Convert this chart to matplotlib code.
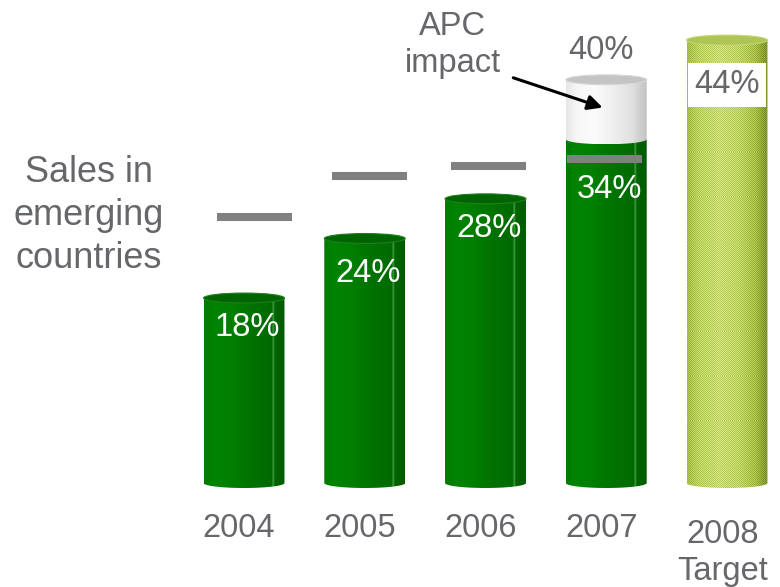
import numpy as np
import matplotlib
matplotlib.use('Agg')
import matplotlib.pyplot as plt
from matplotlib.patches import Ellipse, Polygon
from matplotlib.colors import to_rgb

# ---------------- data ----------------
years = ['2004', '2005', '2006', '2007', '2008\nTarget']
sales = [18, 24, 28, 34, 44]            # % sales in emerging countries
sales_labels = ['18%', '24%', '28%', '34%', '44%']
apc_total = 40                          # 2007 including APC impact
apc_label = '40%'
prior_marks = [26.2, 30.3, 31.3, 32.0]  # grey marker levels 2004-2007

# ---------------- style ----------------
GRAY_TXT = '#66676b'
FS = 23.5
BASE = -0.65          # bottom of cylinders
RY = 0.5              # half-height of cylinder caps (data units)
BW = 0.67             # bar width
GREEN = [(0.0, '#007a00'), (0.12, '#008400'), (0.35, '#007e00'), (0.6, '#007200'),
         (0.84, '#006a00'), (0.86, '#3c9a3c'), (0.88, '#006400'), (1.0, '#005a00')]
WHITE = [(0.0, '#e6e6e6'), (0.12, '#f6f6f6'), (0.35, '#fbfbfb'), (0.6, '#eeeeee'),
         (0.84, '#dedede'), (0.9, '#d2d2d2'), (1.0, '#c4c4c4')]
LIME = [(0.0, '#a6be44'), (0.15, '#bcd45c'), (0.4, '#c8dc70'), (0.65, '#bed462'),
        (0.85, '#a6be44'), (1.0, '#7c922c')]

fig = plt.figure(figsize=(7.8, 5.87), dpi=100)
ax = fig.add_axes([0, 0, 1, 1])
ax.set_xlim(-244 / 120.75, 536 / 120.75)
ax.set_ylim(-11.13, 48.04)
ax.axis('off')


def cylinder(xc, y0, y1, stops, cap, cap_edge, dither=0.0, z=2, draw_cap=True):
    W, H = 81, max(int((y1 - y0) * 10) + 12, 4)
    u = np.linspace(0, 1, W)
    pos = [s[0] for s in stops]
    cols = np.array([to_rgb(s[1]) for s in stops])
    row = np.stack([np.interp(u, pos, cols[:, k]) for k in range(3)], axis=-1)
    img = np.repeat(row[None, :, :], H, axis=0)
    if dither:
        ii, jj = np.meshgrid(np.arange(H), np.arange(W), indexing='ij')
        img = np.clip(img + dither * (((ii + jj) % 2) * 2 - 1)[..., None], 0, 1)
    xl, xr = xc - BW / 2, xc + BW / 2
    im = ax.imshow(img, extent=[xl, xr, y0 - RY, y1], origin='lower',
                   aspect='auto', zorder=z, interpolation='nearest')
    t = np.linspace(np.pi, 2 * np.pi, 60)
    pts = [(xl, y1), (xl, y0)] + list(zip(xc + BW / 2 * np.cos(t), y0 + RY * np.sin(t))) + [(xr, y1)]
    clip = Polygon(pts, closed=True, transform=ax.transData)
    im.set_clip_path(clip)
    if draw_cap:
        ax.add_patch(Ellipse((xc, y1), BW, 2 * RY, facecolor=cap, edgecolor=cap_edge,
                             lw=0.8, zorder=z + 0.1))


xs = np.arange(len(years))
for i in range(4):
    cylinder(xs[i], BASE, sales[i], GREEN, '#006400', '#1f7f1f', z=2,
             draw_cap=(i != 3))
# APC impact on top of 2007
cylinder(xs[3], sales[3], apc_total, WHITE, '#c4c4c4', '#d8d8d8', z=3)
# 2008 target
cylinder(xs[4], BASE, sales[4], LIME, '#aec454', '#c2d672', dither=0.06, z=2)

# grey marker lines
mark_off = [0.09, 0.04, 0.025, -0.017]
for i, m in enumerate(prior_marks):
    ax.hlines(m, xs[i] + mark_off[i] - 0.31, xs[i] + mark_off[i] + 0.31,
              colors='#808080', lw=5.8, capstyle='butt', zorder=5)

# value labels inside bars
lab_off = [3.0, 3.5, 3.0, 5.1]
for i in range(4):
    ax.text(xs[i] + 0.03, sales[i] - lab_off[i], sales_labels[i], color='white',
            fontsize=FS, ha='center', va='center', family='Liberation Sans', zorder=6)
ax.text(xs[3] - 0.04, apc_total + 2.9, apc_label, color=GRAY_TXT, fontsize=FS,
        ha='center', va='center', family='Liberation Sans', zorder=6)
ax.text(xs[4], sales[4] - 4.5, sales_labels[4], color=GRAY_TXT, fontsize=FS,
        ha='center', va='center', family='Liberation Sans', zorder=6,
        bbox=dict(boxstyle='square,pad=0.2', facecolor='white', edgecolor='none'))

# year labels
for i, y in enumerate(years):
    yy = -5.2 if '\n' not in y else -7.7
    ax.text(xs[i] - 0.04, yy, y, color=GRAY_TXT, fontsize=FS, ha='center',
            va='center', family='Liberation Sans', linespacing=1.25)

# side title
ax.text(-1.284, 26.3, 'Sales in\nemerging\ncountries', color=GRAY_TXT, fontsize=26,
        ha='center', va='center', family='Liberation Sans', linespacing=1.3)

# APC annotation
ax.text(1.73, 43.5, 'APC\nimpact', color=GRAY_TXT, fontsize=FS, ha='center',
        va='center', family='Liberation Sans', linespacing=1.27)
ax.annotate('', xy=(xs[3] - 0.03, (sales[3] + apc_total) / 2 + 0.2),
            xytext=(2.23, 40.2),
            arrowprops=dict(arrowstyle='-|>', color='black', lw=2.2,
                            mutation_scale=22, shrinkA=0, shrinkB=0), zorder=7)

fig.savefig('out.png', dpi=100)
